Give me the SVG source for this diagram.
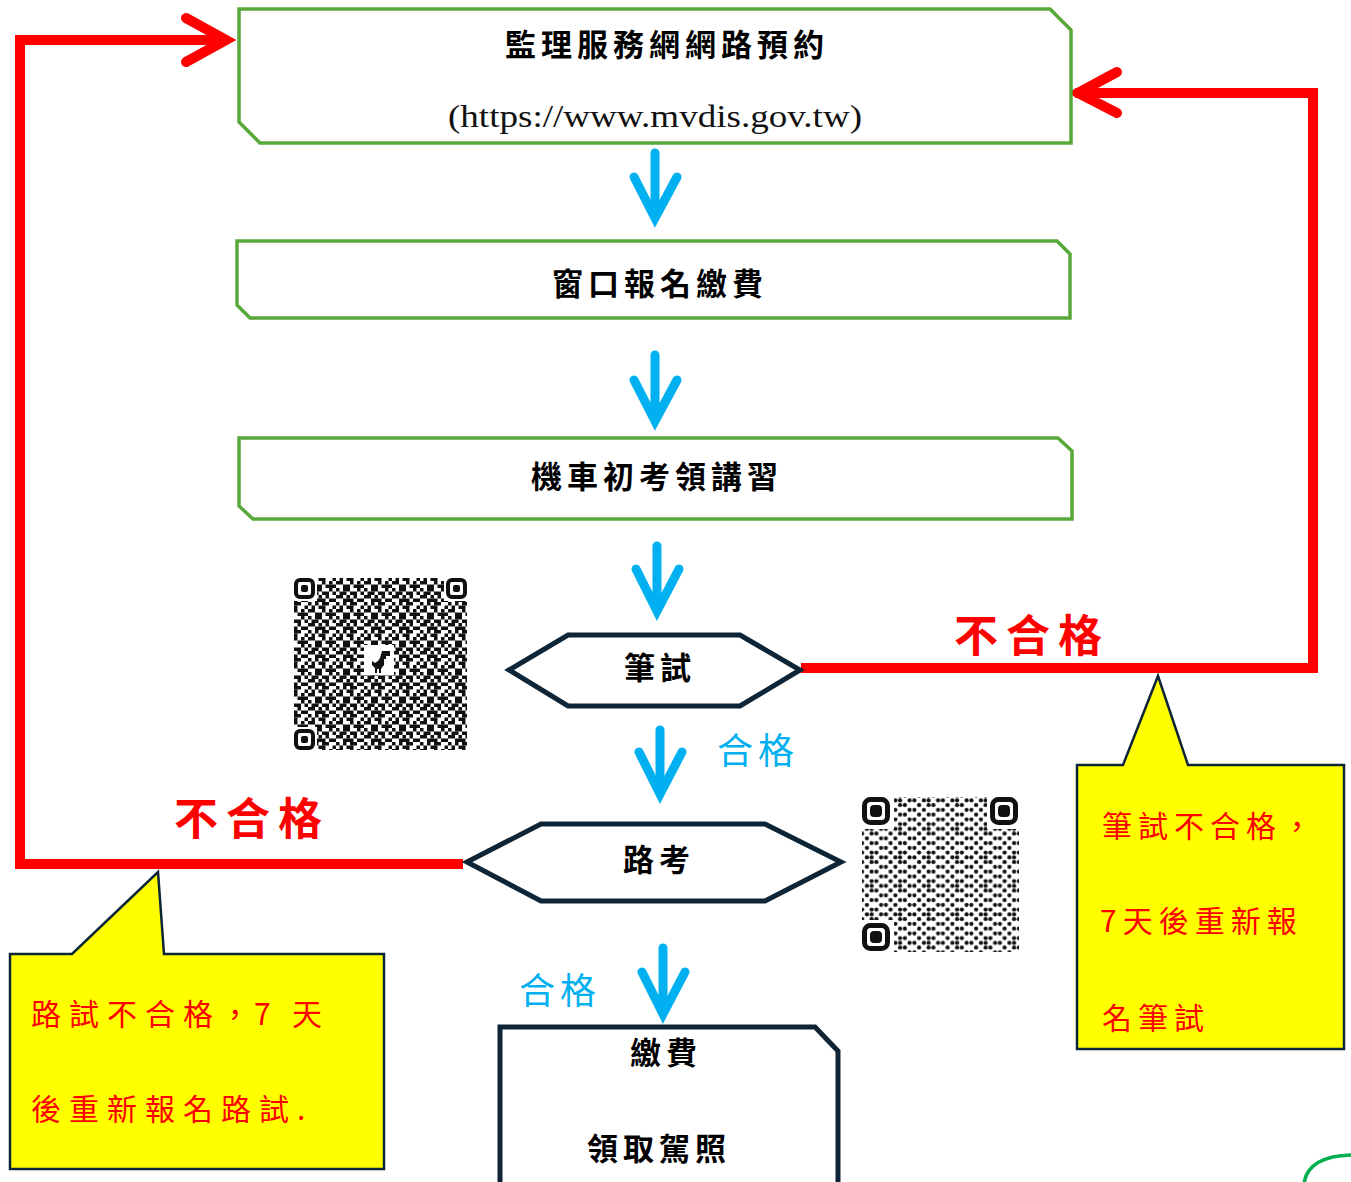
<svg xmlns="http://www.w3.org/2000/svg" width="1351" height="1182" viewBox="0 0 1351 1182">
<defs>
<style>
.gbox{fill:#fff;stroke:#58a83a;stroke-width:3.5;stroke-linejoin:miter}
.dbox{fill:#fff;stroke:#0d2537;stroke-width:5}
.call{fill:#ffff00;stroke:#0d2537;stroke-width:2.5}
.title{font-family:"Noto Sans CJK TC","Noto Sans CJK SC",sans-serif;font-weight:700;font-size:31px;fill:#000;letter-spacing:5px}
.url{font-family:"Liberation Serif","DejaVu Serif",serif;font-size:31px;fill:#111}
.red{stroke:#ff0000;stroke-width:10;fill:none;stroke-linecap:square}
.redhead{stroke:#ff0000;stroke-width:10;fill:none;stroke-linecap:round;stroke-linejoin:miter}
.blue{stroke:#00b0f0;stroke-width:9;fill:none;stroke-linecap:round;stroke-linejoin:miter}
.fail{font-family:"Noto Sans CJK TC","Noto Sans CJK SC",sans-serif;font-weight:700;font-size:44px;fill:#ff0000;letter-spacing:8px}
.pass{font-family:"Noto Sans CJK TC","Noto Sans CJK SC",sans-serif;font-size:36px;fill:#00b0f0;letter-spacing:5px}
.note{font-family:"Noto Sans CJK TC","Noto Sans CJK SC",sans-serif;font-size:30px;fill:#ff0000;letter-spacing:8px}
</style>
<pattern id="qr1" width="28" height="28" patternUnits="userSpaceOnUse">
<g fill="#111">
<rect x="0" y="0" width="3.5" height="3.5"/><rect x="7" y="0" width="7" height="3.5"/><rect x="21" y="0" width="3.5" height="3.5"/>
<rect x="3.5" y="3.5" width="7" height="3.5"/><rect x="14" y="3.5" width="7" height="3.5"/><rect x="24.5" y="3.5" width="3.5" height="3.5"/>
<rect x="0" y="7" width="7" height="3.5"/><rect x="10.5" y="7" width="3.5" height="3.5"/><rect x="17.5" y="7" width="3.5" height="3.5"/>
<rect x="7" y="10.5" width="10.5" height="3.5"/><rect x="21" y="10.5" width="7" height="3.5"/>
<rect x="0" y="14" width="3.5" height="3.5"/><rect x="7" y="14" width="3.5" height="3.5"/><rect x="14" y="14" width="7" height="3.5"/>
<rect x="3.5" y="17.5" width="3.5" height="3.5"/><rect x="10.5" y="17.5" width="7" height="3.5"/><rect x="24.5" y="17.5" width="3.5" height="3.5"/>
<rect x="0" y="21" width="7" height="3.5"/><rect x="14" y="21" width="3.5" height="3.5"/><rect x="21" y="21" width="3.5" height="3.5"/>
<rect x="7" y="24.5" width="7" height="3.5"/><rect x="17.5" y="24.5" width="10.5" height="3.5"/>
</g>
</pattern>
<pattern id="qr2" width="28.5" height="28.5" patternUnits="userSpaceOnUse">
<g fill="#111">
<circle cx="2.4" cy="2.4" r="2.1"/><circle cx="11.9" cy="2.4" r="2.1"/><circle cx="16.6" cy="2.4" r="2.1"/><circle cx="26.1" cy="2.4" r="2.1"/>
<circle cx="7.1" cy="7.1" r="2.1"/><circle cx="16.6" cy="7.1" r="2.1"/><circle cx="21.4" cy="7.1" r="2.1"/>
<circle cx="2.4" cy="11.9" r="2.1"/><circle cx="11.9" cy="11.9" r="2.1"/><circle cx="26.1" cy="11.9" r="2.1"/>
<circle cx="7.1" cy="16.6" r="2.1"/><circle cx="16.6" cy="16.6" r="2.1"/><circle cx="21.4" cy="16.6" r="2.1"/>
<circle cx="2.4" cy="21.4" r="2.1"/><circle cx="11.9" cy="21.4" r="2.1"/><circle cx="26.1" cy="21.4" r="2.1"/>
<circle cx="7.1" cy="26.1" r="2.1"/><circle cx="16.6" cy="26.1" r="2.1"/><circle cx="21.4" cy="26.1" r="2.1"/>
</g>
</pattern>
</defs>
<rect width="1351" height="1182" fill="#fff"/>

<g id="connectors">
<polyline class="red" points="458,864 20,864 20,40 222,40"/>
<polyline class="redhead" points="186,18 226,40 186,62"/>
<polyline class="red" points="806,668 1313,668 1313,93 1080,93"/>
<polyline class="redhead" points="1117,72 1078,93 1117,113"/>
<g>
<line class="blue" x1="655" y1="153" x2="655" y2="214"/><polyline class="blue" points="634,177 655,218 677,177"/>
<line class="blue" x1="655" y1="355" x2="655" y2="418"/><polyline class="blue" points="634,380 655,421 677,380"/>
<line class="blue" x1="657" y1="546" x2="657" y2="608"/><polyline class="blue" points="636,569 657,611 679,569"/>
<line class="blue" x1="660" y1="730" x2="660" y2="791"/><polyline class="blue" points="639,752 660,794 682,752"/>
<line class="blue" x1="663" y1="948" x2="663" y2="1011"/><polyline class="blue" points="642,972 663,1014 685,972"/>
</g>
</g>

<g id="node-reserve">
<polygon class="gbox" points="239,9 1050,9 1071,30 1071,143 260,143 239,122"/>
<text class="title" x="667" y="56" text-anchor="middle">監理服務網網路預約</text>
<text class="url" x="448" y="127" textLength="414" lengthAdjust="spacingAndGlyphs">(https://www.mvdis.gov.tw)</text>
</g>

<g id="node-register">
<polygon class="gbox" points="237,241 1057,241 1070,254 1070,318 250,318 237,305"/>
<text class="title" x="660" y="295" text-anchor="middle">窗口報名繳費</text>
</g>

<g id="node-training">
<polygon class="gbox" points="239,438 1058,438 1072,451 1072,519 253,519 239,506"/>
<text class="title" x="657" y="488" text-anchor="middle">機車初考領講習</text>
</g>

<g id="node-written">
<polygon class="dbox" points="509,670 568,635 740,635 800,670 740,706 568,706"/>
<text class="title" x="660" y="679" text-anchor="middle">筆試</text>
</g>

<g id="node-road">
<polygon class="dbox" points="467,862 541,824 765,824 841,862 765,901 541,901"/>
<text class="title" x="659" y="871" text-anchor="middle">路考</text>
</g>

<g id="node-license">
<polyline class="dbox" points="500,1190 500,1027 815,1027 838,1051 838,1190"/>
<text class="title" x="666" y="1064" text-anchor="middle">繳費</text>
<text class="title" x="659" y="1160" text-anchor="middle">領取駕照</text>
</g>

<g id="label-fail-right"><text class="fail" x="954" y="652">不合格</text></g>
<g id="label-fail-left"><text class="fail" x="174" y="835">不合格</text></g>
<g id="label-pass-1"><text class="pass" x="717" y="764">合格</text></g>
<g id="label-pass-2"><text class="pass" x="519" y="1004">合格</text></g>

<g id="note-road">
<polygon class="call" points="10,954 72,954 158,872 164,954 384,954 384,1169 10,1169"/>
<text class="note" x="31" y="1025">路試不合格</text>
<text class="note" x="220" y="1025" style="letter-spacing:0">，</text>
<text class="note" x="254" y="1025" style="letter-spacing:0">7</text>
<text class="note" x="292" y="1025" style="letter-spacing:0">天</text>
<text class="note" x="31" y="1120">後重新報名路試.</text>
</g>

<g id="note-written">
<polygon class="call" points="1077,765 1123,765 1158,676 1188,765 1344,765 1344,1049 1077,1049"/>
<text class="note" x="1102" y="837" style="letter-spacing:6px">筆試不合格，</text>
<text class="note" x="1100" y="932" style="letter-spacing:6px">7天後重新報</text>
<text class="note" x="1102" y="1029" style="letter-spacing:6px">名筆試</text>
</g>

<g id="qr-left">
<rect x="294" y="578" width="173" height="172" fill="url(#qr1)"/>
<g fill="#fff"><rect x="293" y="577" width="24" height="24"/><rect x="444" y="577" width="24" height="24"/><rect x="293" y="727" width="24" height="24"/><rect x="364" y="645" width="30" height="30"/></g>
<g fill="none" stroke="#111" stroke-width="4"><rect x="296" y="580" width="17" height="17" rx="4"/><rect x="448" y="580" width="17" height="17" rx="4"/><rect x="296" y="731" width="17" height="17" rx="4"/></g>
<g fill="#111"><rect x="301" y="585" width="7" height="7" rx="2"/><rect x="453" y="585" width="7" height="7" rx="2"/><rect x="301" y="736" width="7" height="7" rx="2"/>
<path d="M382,651 h8 v5 h-4 v3 h-2 v6 l-3,4 v4 h-2 v-4 h-2 v4 h-2 v-5 l-3,-3 v-4 l3,2 l3,-2 l2,-3 z"/></g>
</g>

<g id="qr-right">
<rect x="862" y="797" width="157" height="155" fill="url(#qr2)"/>
<g fill="#fff"><rect x="860" y="795" width="34" height="34"/><rect x="987" y="795" width="34" height="34"/><rect x="860" y="920" width="34" height="34"/></g>
<g fill="none" stroke="#111" stroke-width="5"><rect x="864.5" y="799.5" width="23" height="23" rx="6"/><rect x="992.5" y="799.5" width="23" height="23" rx="6"/><rect x="864.5" y="925.5" width="23" height="23" rx="6"/></g>
<g fill="#111"><rect x="870" y="805" width="12" height="12" rx="4"/><rect x="998" y="805" width="12" height="12" rx="4"/><rect x="870" y="931" width="12" height="12" rx="4"/></g>
</g>

<path d="M1304,1184 C1306,1166 1322,1156 1351,1155" fill="none" stroke="#00b050" stroke-width="3.5"/>
</svg>
